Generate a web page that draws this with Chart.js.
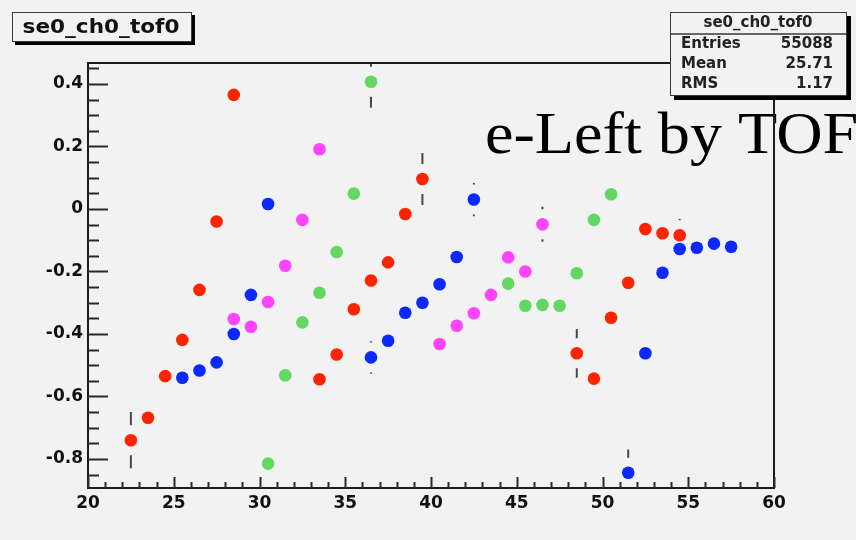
<!DOCTYPE html>
<html>
<head>
<meta charset="utf-8">
<script src="https://cdn.jsdelivr.net/npm/chart.js@4.4.1/dist/chart.umd.min.js"></script>
<style>
  html, body { margin: 0; padding: 0; background: #f2f2f2; }
  #wrap { width: 856px; height: 540px; }
</style>
</head>
<body>
<div id="wrap"><canvas id="chart" width="856" height="540"></canvas></div>
<script>
// data: 4 colour groups, x = bin centre, y = value, err = error bar half length
const redX = [22.5, 23.5, 24.5, 25.5, 26.5, 27.5, 28.5, 33.5, 34.5, 35.5, 36.5, 37.5, 38.5, 39.5, 48.5, 49.5, 50.5, 51.5, 52.5, 53.5, 54.5];
const redY = [-0.740, -0.668, -0.535, -0.419, -0.259, -0.040, 0.365, -0.545, -0.466, -0.321, -0.229, -0.171, -0.016, 0.096, -0.462, -0.543, -0.348, -0.236, -0.064, -0.078, -0.084];
const redErr = [0.09, 0.03, 0.03, 0.03, 0.03, 0.03, 0.03, 0.03, 0.03, 0.03, 0.03, 0.03, 0.03, 0.083, 0.078, 0.03, 0.03, 0.03, 0.03, 0.03, 0.052];

const blueX = [25.5, 26.5, 27.5, 28.5, 29.5, 30.5, 36.5, 37.5, 38.5, 39.5, 40.5, 41.5, 42.5, 51.5, 52.5, 53.5, 54.5, 55.5, 56.5, 57.5];
const blueY = [-0.540, -0.517, -0.491, -0.400, -0.275, 0.016, -0.475, -0.422, -0.332, -0.300, -0.241, -0.154, 0.030, -0.844, -0.462, -0.204, -0.128, -0.124, -0.111, -0.121];
const blueErr = [0.03, 0.03, 0.03, 0.03, 0.03, 0.03, 0.052, 0.03, 0.03, 0.03, 0.03, 0.03, 0.053, 0.074, 0.03, 0.03, 0.03, 0.03, 0.03, 0.03];

const magentaX = [28.5, 29.5, 30.5, 31.5, 32.5, 33.5, 40.5, 41.5, 42.5, 43.5, 44.5, 45.5, 46.5];
const magentaY = [-0.352, -0.377, -0.298, -0.182, -0.035, 0.191, -0.432, -0.374, -0.334, -0.275, -0.155, -0.200, -0.049];
const magentaErr = [0.03, 0.03, 0.03, 0.03, 0.03, 0.03, 0.03, 0.03, 0.03, 0.03, 0.03, 0.03, 0.056];

const greenX = [30.5, 31.5, 32.5, 33.5, 34.5, 35.5, 36.5, 44.5, 45.5, 46.5, 47.5, 48.5, 49.5, 50.5];
const greenY = [-0.815, -0.532, -0.363, -0.268, -0.138, 0.049, 0.407, -0.239, -0.310, -0.307, -0.310, -0.206, -0.035, 0.047];
const greenErr = [0.03, 0.03, 0.03, 0.03, 0.03, 0.03, 0.083, 0.03, 0.03, 0.03, 0.03, 0.03, 0.03, 0.03];

const histName = 'se0_ch0_tof0';
const statLabels = ['Entries', 'Mean', 'RMS'];
const statValues = ['55088', '25.71', '1.17'];
const noteText = 'e-Left by TOF';

const BG = '#f2f2f2';

function points(xs, ys) {
    return xs.map((x, i) => ({ x, y: ys[i] }));
}

function series(xs, ys, errs, color) {
    return {
        data: points(xs, ys),
        errors: errs,
        backgroundColor: color,
        borderColor: color,
        borderWidth: 0,
        pointRadius: 6.3,
        pointHoverRadius: 6.3
    };
}

// ROOT style error bars: vertical line with a gap round the marker
const errorBars = {
    id: 'errorBars',
    beforeDatasetsDraw(chart) {
        const { ctx, chartArea: a } = chart;
        const ys = chart.scales.y;
        const gap = 15;
        ctx.save();
        ctx.beginPath();
        ctx.rect(a.left, a.top, a.right - a.left, a.bottom - a.top);
        ctx.clip();
        ctx.strokeStyle = '#484848';
        ctx.lineWidth = 2;
        chart.data.datasets.forEach((ds, i) => {
            chart.getDatasetMeta(i).data.forEach((pt, j) => {
                const v = ds.data[j].y;
                const hi = ys.getPixelForValue(v + ds.errors[j]);
                const lo = ys.getPixelForValue(v - ds.errors[j]);
                ctx.beginPath();
                if (pt.y - hi > gap) { ctx.moveTo(pt.x, pt.y - gap); ctx.lineTo(pt.x, hi); }
                if (lo - pt.y > gap) { ctx.moveTo(pt.x, pt.y + gap); ctx.lineTo(pt.x, lo); }
                ctx.stroke();
            });
        });
        ctx.restore();
    }
};

function stretchedText(ctx, text, x, y, sx, align) {
    ctx.save();
    ctx.translate(x, y);
    ctx.scale(sx, 1);
    ctx.textAlign = align;
    ctx.fillText(text, 0, 0);
    ctx.restore();
}

const decorations = {
    id: 'decorations',
    afterDraw(chart) {
        const { ctx, chartArea: a } = chart;
        const xs = chart.scales.x, ys = chart.scales.y;
        ctx.save();

        // big note
        ctx.fillStyle = '#000';
        ctx.font = '60px "Liberation Serif", "Times New Roman", serif';
        ctx.textBaseline = 'alphabetic';
        stretchedText(ctx, noteText, 485, 153, 1.07, 'left');

        // frame
        ctx.strokeStyle = '#1c1c1c';
        ctx.lineWidth = 2;
        ctx.strokeRect(a.left, a.top, a.right - a.left, a.bottom - a.top);

        // ticks inside the frame
        ctx.strokeStyle = '#2a2a2a';
        ctx.beginPath();
        ys.ticks.forEach(t => {
            const py = Math.round(ys.getPixelForValue(t.value)) + 0.5;
            const len = t.label ? 20 : 11;
            ctx.moveTo(a.left, py);
            ctx.lineTo(a.left + len, py);
        });
        xs.ticks.forEach(t => {
            const px = Math.round(xs.getPixelForValue(t.value)) + 0.5;
            const len = t.label ? 11 : 6;
            ctx.moveTo(px, a.bottom);
            ctx.lineTo(px, a.bottom - len);
        });
        ctx.stroke();

        // title box
        ctx.fillStyle = '#000';
        ctx.fillRect(15, 15, 180, 30);
        ctx.fillStyle = BG;
        ctx.fillRect(12, 12, 180, 30);
        ctx.strokeStyle = '#3a3a3a';
        ctx.lineWidth = 1;
        ctx.strokeRect(12.5, 12.5, 179, 29);
        ctx.fillStyle = '#111';
        ctx.font = 'bold 20px "DejaVu Sans", sans-serif';
        ctx.textBaseline = 'middle';
        stretchedText(ctx, histName, 101, 28, 1.08, 'center');

        // stats box
        ctx.fillStyle = '#000';
        ctx.fillRect(674, 16, 177, 84);
        ctx.fillStyle = BG;
        ctx.fillRect(670, 12, 177, 84);
        ctx.strokeStyle = '#3a3a3a';
        ctx.strokeRect(670.5, 12.5, 176, 83);
        ctx.strokeStyle = '#666';
        ctx.lineWidth = 2;
        ctx.beginPath();
        ctx.moveTo(671, 34);
        ctx.lineTo(846, 34);
        ctx.stroke();
        ctx.fillStyle = '#222';
        ctx.font = 'bold 15px "DejaVu Sans", sans-serif';
        stretchedText(ctx, histName, 758, 23, 1.0, 'center');
        const rowY = [44, 64, 84];
        statLabels.forEach((lab, i) => {
            stretchedText(ctx, lab, 681, rowY[i], 1.0, 'left');
            stretchedText(ctx, statValues[i], 833, rowY[i], 1.0, 'right');
        });

        ctx.restore();
    }
};

const tickFont = { family: '"DejaVu Sans", sans-serif', size: 17, weight: 'bold' };

new Chart(document.getElementById('chart'), {
    type: 'scatter',
    data: {
        datasets: [
            series(redX, redY, redErr, '#ff2400'),
            series(blueX, blueY, blueErr, '#0a28ff'),
            series(magentaX, magentaY, magentaErr, '#ff44ff'),
            series(greenX, greenY, greenErr, '#62d862')
        ]
    },
    options: {
        responsive: false,
        animation: false,
        devicePixelRatio: 1,
        layout: { padding: { left: 0, top: 63, right: 82, bottom: 0 } },
        plugins: {
            legend: { display: false },
            tooltip: { enabled: false },
            title: { display: false }
        },
        scales: {
            x: {
                type: 'linear',
                min: 20,
                max: 60,
                grid: { display: false, drawTicks: false },
                border: { display: false },
                ticks: {
                    stepSize: 1,
                    autoSkip: false,
                    maxRotation: 0,
                    padding: 5,
                    color: '#111',
                    font: tickFont,
                    callback: v => (v % 5 === 0 ? String(v) : '')
                },
                afterFit: s => { s.height = 52; }
            },
            y: {
                type: 'linear',
                min: -0.893,
                max: 0.467,
                grid: { display: false, drawTicks: false },
                border: { display: false },
                ticks: {
                    stepSize: 0.05,
                    includeBounds: false,
                    autoSkip: false,
                    padding: 5,
                    color: '#111',
                    font: tickFont,
                    callback: v => {
                        const k = v / 0.2;
                        if (Math.abs(k - Math.round(k)) > 1e-6) return '';
                        return String(Math.round(v * 10) / 10);
                    }
                },
                afterFit: s => { s.width = 88; }
            }
        }
    },
    plugins: [errorBars, decorations]
});
</script>
</body>
</html>
